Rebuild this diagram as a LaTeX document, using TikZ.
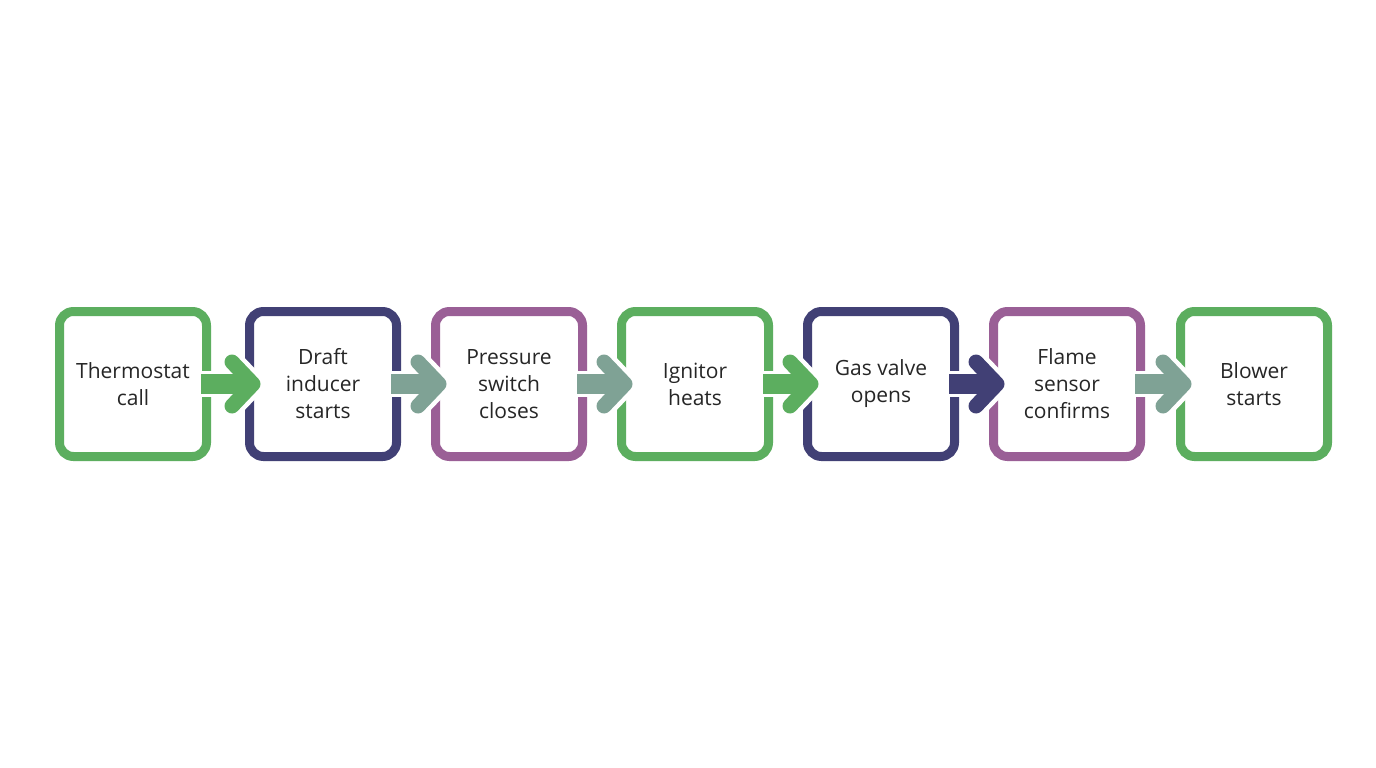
\documentclass[tikz,border=0pt]{standalone}
\usepackage{fontspec}
\setmainfont{Open Sans}
\begin{document}
\begin{tikzpicture}[x=1pt,y=-1pt,
  box/.style={draw=#1,line width=9pt,rounded corners=14pt,fill=white,minimum width=147pt,minimum height=145pt,align=center,font=\fontsize{21}{27}\selectfont,text=black!85},
]
\definecolor{cg}{HTML}{5CAE5F}
\definecolor{cn}{HTML}{414075}
\definecolor{cp}{HTML}{9A5F96}
\definecolor{cs}{HTML}{7FA295}
\useasboundingbox (0,0) rectangle (1376,768);
\fill[white] (0,0) rectangle (1376,768);
\foreach \n/\x/\c/\t in {a/133/cg/{Thermostat\\call},b/323/cn/{Draft\\inducer\\starts},c/509/cp/{Pressure\\switch\\closes},d/695/cg/{Ignitor\\heats},e/881/cn/{Gas valve\\opens},f/1067/cp/{Flame\\sensor\\confirms},g/1254/cg/{Blower\\starts}}
  \node[box=\c] (\n) at (\x,384) {\t};
\foreach \p/\q/\c in {a/b/cg,b/c/cs,c/d/cs,d/e/cg,e/f/cn,f/g/cs}{
  \coordinate (s) at ([xshift=-10pt]\p.east);
  \coordinate (t) at ([xshift=8pt]\q.west);
  \draw[white,line width=26pt] (s) -- ([xshift=-10pt]t);
  \draw[white,line width=24pt,line cap=round,line join=round] ([xshift=-21pt,yshift=-22pt]t) -- (t) -- ([xshift=-21pt,yshift=22pt]t);
  \draw[\c,line width=20pt] (s) -- ([xshift=-6pt]t);
  \draw[\c,line width=15pt,line cap=round,line join=round] ([xshift=-21pt,yshift=-22pt]t) -- (t) -- ([xshift=-21pt,yshift=22pt]t);
}
\end{tikzpicture}
\end{document}
